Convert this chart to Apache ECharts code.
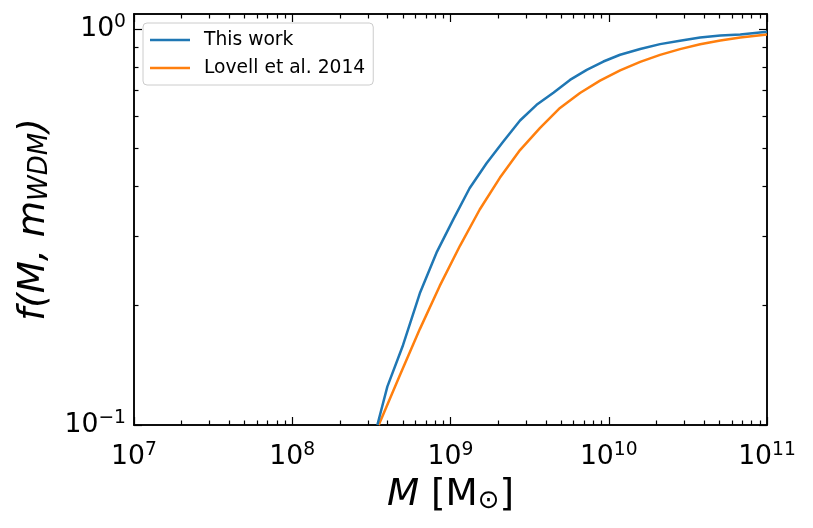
<!DOCTYPE html>
<html>
<head>
<meta charset="utf-8">
<script src="https://cdn.jsdelivr.net/npm/echarts@6/dist/echarts.min.js"></script>
<style>html,body{margin:0;padding:0;background:#fff;}#c{width:813px;height:528px;}</style>
</head>
<body>
<div id="c"></div>
<script>
// ---- data ----
const seriesNames = ['This work', 'Lovell et al. 2014'];
const thisWorkM = [3.45e8, 3.99e8, 5.01e8, 6.40e8, 8.22e8, 1.04e9, 1.32e9, 1.69e9, 2.15e9, 2.75e9, 3.50e9, 4.47e9, 5.69e9, 7.26e9, 9.25e9, 1.18e10, 1.58e10, 2.11e10, 2.82e10, 3.78e10, 5.07e10, 6.78e10, 1e11];
const thisWorkF = [0.1, 0.125, 0.159, 0.215, 0.274, 0.330, 0.396, 0.458, 0.519, 0.587, 0.643, 0.690, 0.743, 0.788, 0.827, 0.860, 0.889, 0.915, 0.933, 0.951, 0.962, 0.968, 0.983];
const lovellM = [3.52e8, 4.78e8, 6.40e8, 8.55e8, 1.15e9, 1.53e9, 2.05e9, 2.75e9, 3.67e9, 4.92e9, 6.58e9, 8.81e9, 1.18e10, 1.58e10, 2.11e10, 2.82e10, 3.78e10, 5.07e10, 6.78e10, 1e11];
const lovellF = [0.1, 0.1334, 0.1746, 0.2244, 0.2838, 0.3499, 0.4207, 0.4943, 0.5616, 0.6313, 0.6887, 0.7400, 0.7855, 0.8250, 0.8596, 0.8888, 0.9139, 0.9341, 0.9506, 0.9674];
const xMajorTicks = [1e7, 1e8, 1e9, 1e10, 1e11];
const yMajorTicks = [0.1, 1];
const xRange = [1e7, 1e11];
const yRange = [0.1, 1.09];

// minor tick positions (2..9 in each decade)
const xMinorTicks = [];
for (let e = 7; e < 11; e++) for (let k = 2; k <= 9; k++) xMinorTicks.push(k * Math.pow(10, e));
const yMinorTicks = [];
for (let k = 2; k <= 9; k++) yMinorTicks.push(k / 10);

const FONT = 'DejaVu Sans';
const expLabel = v => {
  const e = Math.round(Math.log10(v));
  return '{b|10}{s|' + (e < 0 ? '\u2212' + (-e) : e) + '}';
};
const labelRich = {
  b: {fontSize: 26.7, fontFamily: FONT, color: '#000'},
  s: {fontSize: 18.7, fontFamily: FONT, color: '#000', verticalAlign: 'top', padding: [0, 0, 14, 0]}
};

function xAx(pos, minor, labels) {
  return {
    type: 'log', logBase: 10, min: xRange[0], max: xRange[1], position: pos,
    axisLine: {show: true, lineStyle: {color: '#000', width: 1.5}},
    axisTick: {show: true, inside: true, length: minor ? 4.5 : 8, lineStyle: {color: '#000', width: 1.2},
      customValues: minor ? xMinorTicks : xMajorTicks},
    axisLabel: labels ? {show: true, customValues: xMajorTicks, formatter: expLabel, rich: labelRich, margin: 16} : {show: false},
    splitLine: {show: false}, minorTick: {show: false}
  };
}
function yAx(pos, minor, labels) {
  return {
    type: 'log', logBase: 10, min: yRange[0], max: yRange[1], position: pos,
    axisLine: {show: true, lineStyle: {color: '#000', width: 1.5}},
    axisTick: {show: true, inside: true, length: minor ? 4.5 : 8, lineStyle: {color: '#000', width: 1.2},
      customValues: minor ? yMinorTicks : yMajorTicks},
    axisLabel: labels ? {show: true, customValues: yMajorTicks, formatter: expLabel, rich: labelRich, margin: 8} : {show: false},
    splitLine: {show: false}, minorTick: {show: false}
  };
}

const xAxes = [xAx('bottom', false, true), xAx('bottom', true, false), xAx('top', false, false), xAx('top', true, false)];
const yAxes = [yAx('left', false, true), yAx('left', true, false), yAx('right', false, false), yAx('right', true, false)];
xAxes[0].name = '{i|M} [M{sub|\u2299}]';
xAxes[0].nameLocation = 'middle';
xAxes[0].nameGap = 51;
xAxes[0].nameTextStyle = {fontFamily: FONT, fontSize: 37.3, color: '#000', rich: {
  i: {fontFamily: FONT, fontSize: 37.3, fontStyle: 'italic', color: '#000'},
  sub: {fontFamily: FONT, fontSize: 26, color: '#000', verticalAlign: 'bottom', padding: [12, 0, 0, 0]}
}};
yAxes[0].name = '{i|f(M, m}{sub|WDM}{i|)}';
yAxes[0].nameLocation = 'middle';
yAxes[0].nameRotate = 90;
yAxes[0].nameGap = 60;
yAxes[0].nameTextStyle = {fontFamily: FONT, fontSize: 37.3, color: '#000', rich: {
  i: {fontFamily: FONT, fontSize: 37.3, fontStyle: 'italic', color: '#000'},
  sub: {fontFamily: FONT, fontSize: 26, fontStyle: 'italic', color: '#000', verticalAlign: 'bottom', padding: [12, 0, 0, 0]}
}};

const chart = echarts.init(document.getElementById('c'), null, {renderer: 'canvas'});
chart.setOption({
  animation: false,
  backgroundColor: '#fff',
  grid: {left: 134, right: 46, top: 14, bottom: 103, containLabel: false},
  legend: {
    orient: 'vertical', left: 143, top: 23,
    data: seriesNames,
    icon: 'rect', itemWidth: 40, itemHeight: 2.5, itemGap: 6,
    padding: [6, 8, 6, 7],
    borderColor: '#ccc', borderWidth: 1, borderRadius: 4, backgroundColor: 'rgba(255,255,255,0.8)',
    textStyle: {fontFamily: FONT, fontSize: 18.7, color: '#000', lineHeight: 22, padding: [0, 0, 0, 9]}
  },
  xAxis: xAxes,
  yAxis: yAxes,
  series: [
    {name: seriesNames[0], type: 'line', xAxisIndex: 0, yAxisIndex: 0, showSymbol: false, symbol: 'none',
      lineStyle: {color: '#1f77b4', width: 2.5}, itemStyle: {color: '#1f77b4'},
      data: thisWorkM.map((m, i) => [m, thisWorkF[i]]), clip: true, z: 3},
    {name: seriesNames[1], type: 'line', xAxisIndex: 0, yAxisIndex: 0, showSymbol: false, symbol: 'none',
      lineStyle: {color: '#ff7f0e', width: 2.5}, itemStyle: {color: '#ff7f0e'},
      data: lovellM.map((m, i) => [m, lovellF[i]]), clip: true, z: 2}
  ]
});
</script>
</body>
</html>
